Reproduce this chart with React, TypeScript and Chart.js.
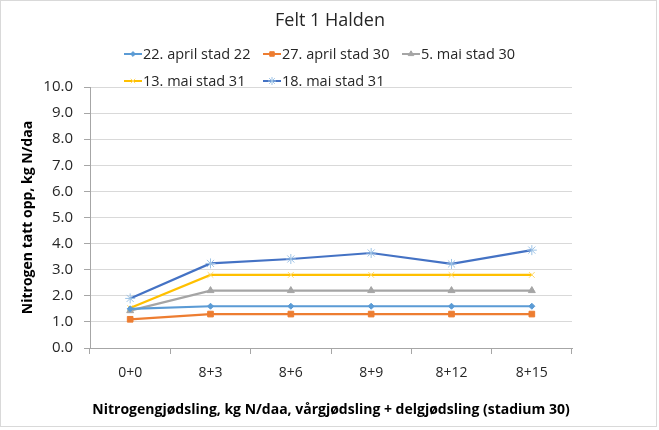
import { useEffect, useRef } from 'react';
import { Chart, registerables } from 'chart.js';
import { drawPoint } from 'chart.js/helpers';

Chart.register(...registerables);

const categories = ['0+0', '8+3', '8+6', '8+9', '8+12', '8+15'];
const april22 = [1.5, 1.6, 1.6, 1.6, 1.6, 1.6];
const april27 = [1.1, 1.3, 1.3, 1.3, 1.3, 1.3];
const mai5 = [1.43, 2.2, 2.2, 2.2, 2.2, 2.2];
const mai13 = [1.53, 2.8, 2.8, 2.8, 2.8, 2.8];
const mai18 = [1.9, 3.24, 3.41, 3.64, 3.22, 3.75];

const FONT = '"Open Sans", Lato, sans-serif';

// legend drawn by hand so it can sit in the Excel-like two-row grid
const legendPlugin = {
  id: 'xlLegend',
  afterDraw(chart: Chart) {
    const { ctx } = chart;
    ctx.save();
    ctx.font = `14.5px ${FONT}`;
    ctx.textBaseline = 'middle';
    const startX = 124;
    const colW = 139;
    chart.data.datasets.forEach((ds: any, i: number) => {
      const col = i % 3;
      const row = Math.floor(i / 3);
      const x = startX + col * colW;
      const y = 54 + row * 27;
      ctx.strokeStyle = ds.borderColor;
      ctx.lineWidth = 2;
      ctx.beginPath();
      ctx.moveTo(x, y);
      ctx.lineTo(x + 18, y);
      ctx.stroke();
      ctx.strokeStyle = ds.pointBorderColor;
      ctx.fillStyle = ds.pointBackgroundColor;
      ctx.lineWidth = 1;
      drawPoint(ctx, {
        pointStyle: ds.pointStyle,
        radius: ds.pointRadius * 0.8,
        rotation: 0,
        borderWidth: 1,
      } as any, x + 9, y);
      ctx.fillStyle = '#262626';
      ctx.fillText(ds.label, x + 19, y + 1);
    });
    ctx.restore();
  },
  beforeDraw(chart: Chart) {
    const { ctx, width, height } = chart;
    ctx.save();
    ctx.fillStyle = '#ffffff';
    ctx.fillRect(0, 0, width, height);
    ctx.strokeStyle = '#d9d9d9';
    ctx.lineWidth = 1;
    ctx.strokeRect(0.5, 0.5, width - 3, height - 4);
    ctx.font = `18px ${FONT}`;
    ctx.fillStyle = '#262626';
    ctx.textAlign = 'center';
    ctx.textBaseline = 'middle';
    ctx.fillText('Felt 1 Halden', 330, 21);
    ctx.restore();
  },
};

const App = () => {
  const chartRef = useRef<HTMLCanvasElement>(null);
  const chartInstance = useRef<Chart | null>(null);

  useEffect(() => {
    document.body.style.margin = '0';
    if (!chartRef.current) return;
    if (chartInstance.current) chartInstance.current.destroy();
    const ctx = chartRef.current.getContext('2d');
    if (!ctx) return;

    const mk = (label: string, data: number[], color: string, style: string, r: number, pointColor: string) => ({
      label,
      data,
      borderColor: color,
      backgroundColor: pointColor,
      pointBorderColor: pointColor,
      pointBackgroundColor: pointColor,
      pointStyle: style,
      pointRadius: r,
      pointBorderWidth: 1,
      borderWidth: 2.2,
      tension: 0,
    });

    chartInstance.current = new Chart(ctx, {
      type: 'line',
      data: {
        labels: categories,
        datasets: [
          mk('22. april stad 22', april22, '#5B9BD5', 'rectRot', 3, '#5B9BD5'),
          mk('27. april stad 30', april27, '#ED7D31', 'rect', 4, '#ED7D31'),
          mk('5. mai stad 30', mai5, '#A5A5A5', 'triangle', 4, '#A5A5A5'),
          mk('13. mai stad 31', mai13, '#FFC000', 'crossRot', 4, '#FFD966'),
          mk('18. mai stad 31', mai18, '#4472C4', 'star', 5, '#9DC3E6'),
        ] as any,
      },
      options: {
        responsive: false,
        animation: false,
        devicePixelRatio: 1,
        layout: { padding: { top: 87, right: 87, left: 0, bottom: 0 } },
        plugins: {
          legend: { display: false },
          title: { display: false },
          tooltip: { enabled: false },
        },
        scales: {
          x: {
            offset: true,
            afterFit: (s: any) => { s.height = 82; },
            grid: {
              offset: true,
              drawOnChartArea: false,
              drawTicks: true,
              tickLength: 6,
              tickColor: '#a6a6a6',
            },
            border: { color: '#a6a6a6', width: 1 },
            ticks: {
              padding: 11,
              color: '#262626',
              font: { family: FONT, size: 14 },
            },
            title: {
              display: true,
              text: 'Nitrogengjødsling, kg N/daa, vårgjødsling + delgjødsling (stadium 30)',
              color: '#000',
              font: { family: FONT, size: 14, weight: 'bold' },
              padding: { top: 4, bottom: 12 },
            },
          },
          y: {
            min: 0,
            max: 10,
            afterFit: (s: any) => { s.width = 90; },
            grid: {
              color: '#d9d9d9',
              tickLength: 6,
              tickColor: '#a6a6a6',
            },
            border: { color: '#a6a6a6', width: 1 },
            ticks: {
              stepSize: 1,
              padding: 11,
              color: '#262626',
              font: { family: FONT, size: 15 },
              callback: (v: any) => Number(v).toFixed(1),
            },
            title: {
              display: true,
              text: 'Nitrogen tatt opp, kg N/daa',
              color: '#000',
              font: { family: FONT, size: 14, weight: 'bold' },
              padding: { top: 20, bottom: 0 },
            },
          },
        },
      },
      plugins: [legendPlugin as any],
    });

    return () => {
      if (chartInstance.current) {
        chartInstance.current.destroy();
        chartInstance.current = null;
      }
    };
  }, []);

  return <canvas ref={chartRef} width={659} height={430} style={{ display: 'block' }}></canvas>;
};

export default App;
